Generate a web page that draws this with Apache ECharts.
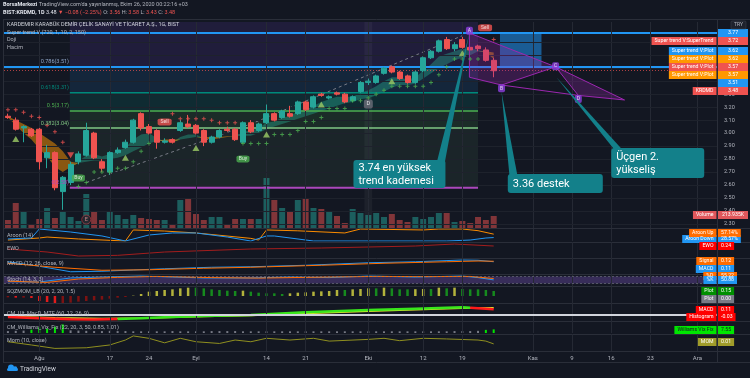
<!DOCTYPE html>
<html><head><meta charset="utf-8"><title>KRDMD</title>
<script src="https://cdn.jsdelivr.net/npm/echarts@6/dist/echarts.min.js"></script>
<style>html,body{margin:0;padding:0;background:#131722;overflow:hidden}#chart{width:750px;height:378px}</style>
</head><body><div id="chart"></div>
<script>
// ================= DATA =================
const holidays = ['2020-07-31','2020-08-03','2020-10-29'];
const N = 91;
const dates = [];
(function(){const d=new Date(Date.UTC(2020,6,27));while(dates.length<N){const s=d.toISOString().slice(0,10);const w=d.getUTCDay();if(w!==0&&w!==6&&holidays.indexOf(s)<0)dates.push(s);d.setUTCDate(d.getUTCDate()+1);}})();
const tickLabels = {'2020-08-04':'Ağu','2020-08-17':'17','2020-08-24':'24','2020-09-01':'Eyl','2020-09-14':'14','2020-09-21':'21','2020-10-01':'Eki','2020-10-12':'12','2020-10-19':'19','2020-11-02':'Kas','2020-11-09':'9','2020-11-16':'16','2020-11-23':'23','2020-12-01':'Ara'};
const priceTicks = [2.3,2.4,2.5,2.6,2.7,2.8,2.9,3.0,3.1,3.2,3.3,3.4,3.5,3.6,3.7];

const opens  = [3.13,3.10,3.04,3.03,3.03,2.81,2.85,2.55,2.62,2.78, 2.83,3.00,2.78,2.70,2.85,2.89,2.93,3.15,3.05,3.02, 2.93,2.95,3.02,3.07,3.06,3.02,2.93,2.97,3.03,3.03, 2.93,3.08,3.02,3.08,3.15,3.12,3.15,3.15,3.24,3.20, 3.30,3.27,3.31,3.30,3.25,3.32,3.39,3.39,3.46,3.51, 3.47,3.44,3.39,3.48,3.58,3.63,3.72,3.65,3.72,3.66, 3.67,3.64,3.56];
const closes = [3.12,3.03,3.05,2.98,2.78,2.85,2.58,2.66,2.76,2.84, 3.02,2.81,2.73,2.85,2.87,2.93,3.10,3.04,3.00,2.93, 2.94,2.93,3.08,3.05,3.00,2.93,2.97,3.02,3.02,2.95, 3.08,3.01,3.07,3.15,3.10,3.17,3.13,3.24,3.18,3.28, 3.29,3.28,3.30,3.24,3.28,3.39,3.40,3.44,3.50,3.47, 3.42,3.39,3.47,3.58,3.63,3.71,3.65,3.68,3.66,3.64, 3.65,3.56,3.48];
const lows   = [3.11,3.02,2.93,2.97,2.72,2.73,2.56,2.41,2.60,2.76, 2.82,2.80,2.70,2.68,2.84,2.88,2.92,3.02,2.99,2.88, 2.92,2.92,3.01,3.04,2.99,2.90,2.92,2.96,3.01,2.94, 2.92,3.00,3.01,3.07,3.09,3.11,3.12,3.14,3.17,3.19, 3.28,3.26,3.29,3.23,3.24,3.31,3.37,3.38,3.45,3.46, 3.41,3.38,3.38,3.47,3.57,3.62,3.64,3.63,3.65,3.63, 3.63,3.55,3.43];
const highs  = [3.15,3.12,3.06,3.04,3.04,2.91,2.86,2.67,2.78,2.86, 3.08,3.01,2.80,2.86,2.89,2.95,3.11,3.16,3.07,3.03, 2.96,2.96,3.10,3.14,3.07,3.03,2.98,3.03,3.05,3.04, 3.09,3.10,3.08,3.22,3.16,3.18,3.21,3.25,3.25,3.29, 3.31,3.29,3.32,3.31,3.29,3.40,3.42,3.45,3.51,3.52, 3.48,3.45,3.48,3.59,3.64,3.72,3.74,3.70,3.74,3.67, 3.68,3.66,3.58];
const volumesK = [142,445,303,53,160,356,178,285,196,125, 605,285,142,285,231,160,231,178,160,142, 142,71,498,534,249,142,196,196,71,160, 160,160,160,890,498,356,285,498,516,356, 338,303,214,89,338,267,231,267,196,249, 142,107,196,160,196,267,267,107,125,89, 196,142,213.935];

const stFast = [3.12,3.06,3.00,2.95,2.88,2.82,2.74,2.70,2.74,2.78, 2.83,2.84,2.82,2.84,2.86,2.89,2.95,2.99,3.00,2.96, 2.94,2.93,2.97,2.99,2.99,2.96,2.95,2.96,2.97,2.98, 3.01,3.02,3.04,3.08,3.09,3.12,3.13,3.17,3.18,3.21, 3.24,3.26,3.28,3.28,3.28,3.31,3.33,3.36,3.40,3.43, 3.43,3.41,3.43,3.48,3.53,3.59,3.61,3.63,3.65,3.65, 3.64,3.62,3.57];
const stSlow = [3.13,3.10,3.07,3.04,3.00,2.96,2.92,2.86,2.78,2.77, 2.78,2.79,2.79,2.80,2.81,2.83,2.86,2.89,2.92,2.94, 2.95,2.95,2.95,2.96,2.97,2.97,2.97,2.97,2.975,2.975, 2.98,2.98,3.00,3.03,3.05,3.07,3.09,3.11,3.13,3.15, 3.17,3.19,3.21,3.23,3.24,3.26,3.27,3.29,3.32,3.35, 3.37,3.37,3.38,3.42,3.46,3.50,3.53,3.56,3.58,3.60, 3.63,3.63,3.62];
const stStopUp = [null,null,null,null,null,null,null,null,null,2.59, 2.62,2.70,2.70,2.70,2.73,2.73,2.78,2.86,2.92,null, null,null,null,null,null,null,null,null,null,null, 2.92,2.92,2.92,2.92,2.99,2.99,2.99,3.02,3.09,3.09, 3.12,3.19,3.19,3.19,3.25,3.25,3.27,3.30,3.33,3.36, 3.36,3.36,3.36,3.36,3.39,3.45,3.51,3.57,3.57,3.57, 3.57,null,null];
const stStopDn = [3.18,3.18,3.16,3.13,3.12,3.06,3.01,2.93,null,null, null,null,null,null,null,null,null,null,null,null, null,3.15,3.11,3.11,3.11,3.11,3.10,3.08,3.08,3.08, null,null,null,null,null,null,null,null,null,null, null,null,null,null,null,null,null,null,null,null, null,null,null,null,null,null,null,null,null,null, null,null,3.72];
const dojiUp = [[1,2.955],[15,2.81],[24,2.885],[33,2.99],[40,3.22],[49,3.40],[58,3.615]];
const dojiDown = [[8,2.83]];
const buySignals = [[9,2.655],[30,2.80]];
const sellSignals = [[20,3.085],[60.9,3.81]];
const trendDash = [[10,2.62],[31,3.07],[58,3.75]];
const fibStart = 7.9, fibEnd = 60;
const fibLevels = [
  {label:'0.786(3.51)', price:3.51},
  {label:'0.618(3.31)', price:3.31},
  {label:'0.5(3.17)',   price:3.17},
  {label:'0.382(3.04)', price:3.04},
  {label:'0(2.58)',     price:2.58}
];
const fibTop = 3.855;
const abcd = {A:[58.9,3.77], A2:[58.9,3.43], B:[63,3.37], C:[69.9,3.51], D:[72.8,3.29], E:[78.7,3.255]};
const abcdLabels = [['A',58.9,3.787],['B',63,3.345],['C',69.9,3.515],['D',72.8,3.262]];
const positionBox = [[62.8,3.77],[68.1,3.51]];
const callouts = [
  {lines:['3.74 en yüksek','trend kademesi'], anchor:[44.1,2.793], w:92, h:28, baseAt:0.95, tip:[58.9,3.77]},
  {lines:['3.36 destek'], anchor:[63.8,2.685], w:95, h:19, baseAt:0.06, tip:[63.0,3.316]},
  {lines:['Üçgen 2.','yükseliş'], anchor:[77.0,2.885], w:93, h:30, baseAt:0.08, tip:[70.0,3.43]}
];

const aroonUp   = [[0,8],[4,25],[5,33],[9,17],[15,0],[16,92],[20,83],[24,67],[31,22],[32,8],[33,92],[37,85],[43,67],[45,100],[53,92],[55,100],[58,100],[60,86],[62,57.14]];
const aroonDown = [[0,17],[3,25],[4,100],[8,75],[12,42],[15,0],[18,50],[21,67],[24,67],[28,33],[31,0],[33,42],[34,42],[39,0],[56,0],[59,8],[61,25],[62,28.57]];
const ewo = [[0,0.15],[5,0.06],[9,-0.06],[14,-0.04],[20,0.06],[31,0.15],[40,0.18],[46,0.21],[52,0.24],[57,0.30],[62,0.24]];
const macdLine = [[0,0.11],[4,0.02],[8,-0.09],[12,-0.08],[16,-0.055],[20,-0.03],[26,0.0],[31,0.01],[38,0.04],[46,0.09],[52,0.11],[58,0.145],[60,0.14],[62,0.11]];
const macdSignal = [[0,0.08],[6,0.0],[12,-0.06],[18,-0.05],[25,-0.02],[31,0.0],[40,0.04],[48,0.08],[56,0.11],[60,0.125],[62,0.12]];
const stochK = [[0,36],[4,33],[8,67],[12,75],[17,83],[21,75],[25,67],[31,67],[36,75],[41,70],[46,83],[52,75],[58,83],[60,70],[62,50.88]];
const stochD = [[0,40],[5,30],[9,58],[14,72],[19,80],[26,70],[32,66],[38,72],[47,80],[53,78],[59,80],[62,62]];
const sqzMom = [-0.04,-0.05,-0.05,-0.06,-0.15,-0.18,-0.21,-0.21,-0.20,-0.17, -0.15,-0.13,-0.11,-0.08,-0.05,-0.03,0.01,0.06,0.13,0.15, 0.18,0.20,0.23,0.25,0.25,0.23,0.20,0.18,0.16,0.15, 0.16,0.13,0.10,0.08,0.08,0.06,0.08,0.10,0.11,0.13, 0.14,0.15,0.18,0.18,0.20,0.21,0.23,0.23,0.25,0.23, 0.20,0.20,0.205,0.21,0.21,0.25,0.23,0.25,0.21,0.20, 0.20,0.18,0.15];
const cmMacd = [[0,-0.04],[4,-0.06],[8,-0.08],[11,-0.085],[14,-0.075],[17,-0.06],[20,-0.045],[25,-0.02],[31,0.0],[38,0.05],[46,0.095],[52,0.12],[58,0.145],[59,0.14],[62,0.11]];
const cmSignal = [[0,-0.03],[6,-0.05],[12,-0.065],[18,-0.055],[25,-0.03],[31,-0.01],[38,0.03],[46,0.07],[52,0.10],[58,0.13],[62,0.14]];
const cmTurns = [14,59];
const vixFix = [4,4.5,5,7,12,9,13,18,5.5,5, 4.5,4,4,4.5,4,4,3.5,3.5,3.5,3.5, 3.5,4,3.5,3.5,3.5,3.5,4,4,4,4, 3.5,3.5,3.5,3.5,3.5,3.5,3.5,3.5,3.5,3.5, 3.5,3.5,3.5,3.5,3.5,3.5,3.5,3.5,3.5,3.5, 3.5,3.5,3.5,3.5,3.5,3.5,3.5,4,4,4, 4.5,6.5,7.55];
const vixThreshold = 6;
const mom = [[0,0.13],[3,-0.02],[6,-0.18],[10,-0.15],[13,-0.02],[15,0.21],[16,0.40],[18,0.29],[20,0.08],[22,0.29],[24,0.13],[27,0.05],[29,0.21],[31,0.13],[33,0.29],[36,0.21],[39,0.29],[41,0.16],[46,0.24],[48,0.29],[50,0.18],[53,0.29],[56,0.26],[60,0.21],[61,0.16],[62,0.03]];

// ================= STYLE / LAYOUT =================
const FONT = 'Roboto, "Liberation Sans", sans-serif';
const BG = '#131722';
const UP = '#26a69a', DN = '#ef5350';
const TEAL = '#13808a';
const PURPLE = '#9c27b0';
const panes = [[22,206],[229,12],[242,16],[258,16],[274,12],[286,17],[303,18],[321,12],[334,17]];
const mctx = document.createElement('canvas').getContext('2d');
function tw(t,size,bold){mctx.font=(bold?'bold ':'')+size+'px '+FONT;return mctx.measureText(t).width;}

const tickIdx = dates.map((d,i)=>tickLabels[d]?i:-1).filter(i=>i>=0);
const vLines = tickIdx.map(i=>({xAxis:dates[i]}));
function vm(extra){return {silent:true,symbol:'none',animation:false,label:{show:false},lineStyle:{color:'#252934',width:1,type:'solid'},data:vLines.concat(extra||[])};}

const grid = panes.map(([t,h])=>({left:4,width:713,top:t,height:h,show:false,containLabel:false,outerBoundsMode:'none'}));
const catAxis = (gi,showLabel)=>({type:'category',gridIndex:gi,data:dates,boundaryGap:true,axisLine:{show:false},axisTick:{show:false},splitLine:{show:false},
  axisLabel: showLabel ? {show:true,interval:(i,v)=>!!tickLabels[v],formatter:v=>tickLabels[v]||'',color:'#b2b5be',fontSize:6,margin:4,fontFamily:FONT} : {show:false}});
const xAxis = [catAxis(0,false),{type:'value',gridIndex:0,min:-0.5,max:N-0.5,show:false}];
for(let g=1;g<=8;g++) xAxis.push(catAxis(g,g===8));
const va=(gi,min,max)=>({type:'value',gridIndex:gi,min,max,show:false,splitLine:{show:false}});
const yAxis = [va(0,2.27,3.855),va(0,0,206*17.8),va(1,0,100),va(2,-0.12,0.36),va(3,-0.135,0.185),va(4,0,100),va(5,-0.21,0.30),va(6,-0.114,0.228),va(7,0,25),va(8,-0.30,0.49)];

// derived series
const candleData = opens.map((o,i)=>[o,closes[i],lows[i],highs[i]]);
const volData = volumesK.map((v,i)=>({value:v,itemStyle:{color:closes[i]>=opens[i]?'rgba(38,166,154,0.5)':'rgba(239,83,80,0.5)'}}));
const bandLow = stFast.map((f,i)=>Math.min(f,stSlow[i]));
const bandG = stFast.map((f,i)=>Math.max(f-stSlow[i],0));
const bandO = stFast.map((f,i)=>Math.max(stSlow[i]-f,0));
const pairs = arr=>arr.map((v,i)=>v==null?null:[i,v]).filter(Boolean);
const plusSym = 'path://M3,0H5V3H8V5H5V8H3V5H0V3H3Z';
const fibColors = ['#8fa5c7','#00897b','#4caf50','#81c784','#ab47bc'];
const fibZoneFill = ['rgba(103,58,183,0.17)','rgba(33,150,243,0.12)','rgba(0,150,136,0.16)','rgba(76,175,80,0.14)','rgba(129,199,132,0.08)'];
const zoneEdges = [fibTop].concat(fibLevels.map(f=>f.price));
const fibZones = zoneEdges.slice(0,-1).map((p,k)=>[{xAxis:fibStart,yAxis:p,itemStyle:{color:fibZoneFill[k]}},{xAxis:fibEnd,yAxis:zoneEdges[k+1]}]);
fibZones.push([{xAxis:45.5,yAxis:3.855,itemStyle:{color:'rgba(255,255,255,0.045)'}},{xAxis:46.5,yAxis:2.27}]);
fibZones.push([{xAxis:positionBox[0][0],yAxis:positionBox[0][1],itemStyle:{color:'rgba(33,150,243,0.55)'}},{xAxis:positionBox[1][0],yAxis:positionBox[1][1]}]);
const sqzData = sqzMom.map((v,i)=>{const p=i?sqzMom[i-1]:v;const c=v>=0?(v>p?'#b3b33c':'#168a1e'):(v<p?'#e01b1b':'#7d1212');return {value:v,itemStyle:{color:c}};});
const vixData = vixFix.map(v=>({value:v,itemStyle:{color:v>vixThreshold?'#00e600':'#787b86'}}));
const seg=(arr,a,b)=>arr.filter(p=>p[0]>=a&&p[0]<=b);

const series = [];
// ---- main pane ----
series.push({type:'line',xAxisIndex:1,yAxisIndex:0,data:trendDash,symbol:'none',z:3,lineStyle:{color:'#787b86',width:1,type:[3,3]},
  markArea:{silent:true,animation:false,data:fibZones},
  markLine:{silent:true,symbol:'none',animation:false,label:{show:false},data:[
    {yAxis:3.77,lineStyle:{color:'#2196f3',width:2,type:'solid'}},
    {yAxis:3.51,lineStyle:{color:'#2196f3',width:2,type:'solid'}},
    {yAxis:3.48,lineStyle:{color:'#ef5350',width:1,type:[1,2],opacity:0.7}}]}});
series.push({type:'bar',xAxisIndex:0,yAxisIndex:1,data:volData,barWidth:6,z:2,markLine:vm()});
series.push({type:'line',xAxisIndex:0,yAxisIndex:0,data:bandLow,stack:'g',symbol:'none',lineStyle:{width:0},z:3,
  markLine:{silent:true,symbol:'none',animation:false,label:{show:false},data:priceTicks.map(p=>({yAxis:p,lineStyle:{color:'#1e222c',width:1,type:'solid'},label:{show:true,position:'end',distance:7,formatter:p.toFixed(2),color:'#b2b5be',fontSize:5.5,fontFamily:FONT}}))}});
series.push({type:'line',xAxisIndex:0,yAxisIndex:0,data:bandG,stack:'g',symbol:'none',lineStyle:{width:0},areaStyle:{color:'rgba(38,166,140,0.42)',opacity:1},z:3});
series.push({type:'line',xAxisIndex:0,yAxisIndex:0,data:bandLow,stack:'o',symbol:'none',lineStyle:{width:0},z:3});
series.push({type:'line',xAxisIndex:0,yAxisIndex:0,data:bandO,stack:'o',symbol:'none',lineStyle:{width:0},areaStyle:{color:'rgba(255,152,0,0.5)',opacity:1},z:3});
fibLevels.forEach((f,k)=>series.push({type:'line',xAxisIndex:1,yAxisIndex:0,data:[[fibStart,f.price],[fibEnd,f.price]],symbol:'none',z:3,lineStyle:{color:fibColors[k],width:k===4?2:1.5}}));
series.push({type:'candlestick',xAxisIndex:0,yAxisIndex:0,data:candleData,barWidth:5.5,z:5,itemStyle:{color:UP,color0:DN,borderColor:UP,borderColor0:DN,borderWidth:1}});
series.push({type:'scatter',xAxisIndex:0,yAxisIndex:0,data:pairs(stStopUp),symbol:plusSym,symbolSize:4,z:6,itemStyle:{color:'#4caf50'}});
series.push({type:'scatter',xAxisIndex:0,yAxisIndex:0,data:pairs(stStopDn),symbol:plusSym,symbolSize:4,z:6,itemStyle:{color:'#ef5350'}});
series.push({type:'scatter',xAxisIndex:1,yAxisIndex:0,data:dojiUp,symbol:'triangle',symbolSize:[7,6],z:6,itemStyle:{color:'#9ccc65'}});
series.push({type:'scatter',xAxisIndex:1,yAxisIndex:0,data:dojiDown,symbol:'triangle',symbolRotate:180,symbolSize:[7,6],z:6,itemStyle:{color:'#ef5350'}});
series.push({type:'scatter',xAxisIndex:1,yAxisIndex:0,data:buySignals,symbol:'roundRect',symbolSize:[13,7],z:7,itemStyle:{color:'#4caf50'},label:{show:true,position:'inside',formatter:'Buy',color:'#fff',fontSize:5,fontFamily:FONT}});
series.push({type:'scatter',xAxisIndex:1,yAxisIndex:0,data:sellSignals,symbol:'roundRect',symbolSize:[14,7],z:7,itemStyle:{color:'#ef5350'},label:{show:true,position:'inside',formatter:'Sell',color:'#fff',fontSize:5,fontFamily:FONT}});
series.push({type:'custom',xAxisIndex:1,yAxisIndex:0,z:6,clip:false,silent:true,data:[abcd.A],
  renderItem:(params,api)=>{const c=k=>api.coord(abcd[k]);const st={fill:'rgba(156,39,176,0.28)',stroke:PURPLE,lineWidth:1};
    return {type:'group',children:[
      {type:'polygon',shape:{points:[c('A'),c('C'),c('B'),c('A2')]},style:st},
      {type:'polygon',shape:{points:[c('C'),c('E'),c('D')]},style:st},
      {type:'line',shape:{x1:c('B')[0],y1:c('B')[1],x2:c('D')[0],y2:c('D')[1]},style:{stroke:PURPLE,lineWidth:1}}]};}});
series.push({type:'scatter',xAxisIndex:1,yAxisIndex:0,z:8,data:abcdLabels.map(a=>({value:[a[1],a[2]],name:a[0]})),symbol:'roundRect',symbolSize:[7,8],itemStyle:{color:'#8e3fe0'},
  label:{show:true,position:'inside',formatter:p=>p.name,color:'#fff',fontSize:5,fontFamily:FONT}});
series.push({type:'scatter',xAxisIndex:1,yAxisIndex:0,z:8,data:[{value:[10,2.335],name:'E'}],symbol:'circle',symbolSize:9,itemStyle:{color:'#2a1d25',borderColor:'#9c3b43',borderWidth:1},
  label:{show:true,position:'inside',formatter:'E',color:'#ef9a9a',fontSize:5.5,fontFamily:FONT}});
series.push({type:'scatter',xAxisIndex:1,yAxisIndex:0,z:8,data:[{value:[46,3.225],name:'D'}],symbol:'roundRect',symbolSize:[9,9],itemStyle:{color:'#6a6d78'},
  label:{show:true,position:'inside',formatter:'D',color:'#fff',fontSize:5.5,fontFamily:FONT}});
series.push({type:'custom',xAxisIndex:1,yAxisIndex:0,z:10,clip:false,silent:true,data:callouts.map(c=>c.anchor),
  renderItem:(params,api)=>{const c=callouts[params.dataIndex];const p=api.coord(c.anchor);const t=api.coord(c.tip);const bx=p[0]+c.w*c.baseAt;
    return {type:'group',children:[
      {type:'polygon',shape:{points:[[bx-4,p[1]+2],[bx+4,p[1]+2],t]},style:{fill:TEAL}},
      {type:'rect',shape:{x:p[0],y:p[1],width:c.w,height:c.h,r:3},style:{fill:TEAL}},
      {type:'text',style:{text:c.lines.join('\n'),x:p[0]+5,y:p[1]+c.h/2+0.5,fill:'#ffffff',font:'11px '+FONT,lineHeight:13,textVerticalAlign:'middle',textAlign:'left'}}]};}});

// ---- lower panes ----
const L=(xi,data,color,extra)=>Object.assign({type:'line',xAxisIndex:xi,yAxisIndex:xi,data,symbol:'none',lineStyle:{color,width:1},z:3},extra||{});
series.push(L(2,aroonUp,'#fb8c00',{markLine:vm()}));
series.push(L(2,aroonDown,'#2196f3'));
series.push(L(3,ewo,'#a31d1d',{markLine:vm()}));
series.push(L(4,macdLine,'#2196f3',{markLine:vm()}));
series.push(L(4,macdSignal,'#ff6d00'));
series.push(L(5,stochK,'#2196f3',{markLine:vm([{yAxis:80,lineStyle:{color:'#787b86',type:[2,2],opacity:0.6}},{yAxis:20,lineStyle:{color:'#787b86',type:[2,2],opacity:0.6}}]),
  markArea:{silent:true,animation:false,itemStyle:{color:'rgba(126,87,194,0.35)'},data:[[{yAxis:20},{yAxis:80}]]}}));
series.push(L(5,stochD,'#ff6d00'));
series.push({type:'bar',xAxisIndex:6,yAxisIndex:6,data:sqzData,barWidth:2.5,z:3,markLine:vm()});
series.push(L(7,cmSignal,'#e3e32e',{lineStyle:{color:'#e3e32e',width:1.5},markLine:vm([{yAxis:0,lineStyle:{color:'#d1d4dc',width:2}}])}));
series.push(L(7,seg(cmMacd,0,cmTurns[0]),'#ff1a1a',{lineStyle:{color:'#ff1a1a',width:2.5}}));
series.push(L(7,seg(cmMacd,cmTurns[0],cmTurns[1]),'#39e61c',{lineStyle:{color:'#39e61c',width:2.5}}));
series.push(L(7,seg(cmMacd,cmTurns[1],99),'#ff1a1a',{lineStyle:{color:'#ff1a1a',width:2.5}}));
series.push({type:'bar',xAxisIndex:8,yAxisIndex:8,data:vixData,barWidth:2,z:3,markLine:vm()});
series.push(L(9,mom,'#8f8f1f',{markLine:vm()}));

// ================= GRAPHICS (text, separators, tags) =================
const G = [];
[19,228,242,258,274,286,303,321,334,351,362].forEach(y=>G.push({type:'line',silent:true,z:1,shape:{x1:3,y1:y+0.5,x2:750,y2:y+0.5},style:{stroke:'#2a2e39',lineWidth:1}}));
G.push({type:'line',silent:true,z:1,shape:{x1:717.5,y1:19,x2:717.5,y2:362},style:{stroke:'#2a2e39',lineWidth:1}});
G.push({type:'line',silent:true,z:1,shape:{x1:3.5,y1:19,x2:3.5,y2:362},style:{stroke:'#2a2e39',lineWidth:1}});
function segs(x,y,list,size){list.forEach(s=>{const [t,c,b]=s;G.push({type:'text',silent:true,z:50,style:{x,y,text:t,fill:c||'#b2b5be',font:(b?'bold ':'')+size+'px '+FONT,textVerticalAlign:'middle'}});x+=tw(t,size,b);});}
segs(3,5,[['BorsaMerkezi','#e0e3eb',true],[" TradingView.com'da yayınlanmış, Ekim 26, 2020 00:22:16 +03",'#b2b5be']],5.5);
segs(3,13,[['BIST:KRDMD, 1D','#e0e3eb',true],[' 3.48 ','#e0e3eb'],['▼ −0.08 (−2.25%)','#ef5350'],[' O: '],['3.56','#ef5350'],[' H: '],['3.58','#ef5350'],[' L: '],['3.43','#ef5350'],[' C: '],['3.48','#ef5350']],5.5);
const titleRows=[[25,'KARDEMIR KARABÜK DEMİR ÇELİK SANAYİ VE TİCARET A.Ş., 1G, BIST','#d1d4dc'],[33,'Super trend V (720, 1, 10, 2, 150)','#b2b5be'],[40,'Doji','#b2b5be'],[48,'Hacim','#b2b5be'],
 [236,'Aroon (14)'],[249,'EWO'],[264,'MACD (12, 26, close, 9)'],[280,'Stoch (14, 3, 3)'],[292,'SQZMOM_LB (20, 2, 20, 1.5)'],[314,'CM_Ult_MacD_MTF (60, 12, 26, 9)'],[328,'CM_Williams_Vix_Fix (22, 20, 3, 50, 0.85, 1.01)'],[341,'Mom (10, close)']];
titleRows.forEach(r=>G.push({type:'text',silent:true,z:50,style:{x:7,y:r[0],text:r[1],fill:r[2]||'#b2b5be',font:'5.5px '+FONT,textVerticalAlign:'middle'}}));
const fibTextY=[62,88,106,124,183];
fibLevels.forEach((f,k)=>G.push({type:'text',silent:true,z:50,style:{x:69,y:fibTextY[k],text:f.label,fill:fibColors[k],font:'5.5px '+FONT,textAlign:'right',textVerticalAlign:'middle'}}));
// right-side tags
const tags=[
 [33,'','3.77','#2196f3'],[41,'Super trend V:SuperTrend','3.72','#ef5350'],[51,'Super trend V:Plot','3.62','#2196f3'],[59,'Super trend V:Plot','3.62','#ff9800'],
 [67,'Super trend V:Plot','3.57','#ef5350'],[75,'Super trend V:Plot','3.57','#ff9800'],[83,'','3.51','#2196f3'],[91,'KRDMD','3.48','#ef5350'],
 [215,'Volume','213.935K','#e0575b'],[239,'Aroon Down','28.57%','#2196f3'],[233,'Aroon Up','57.14%','#ff6d00'],[246,'EWO','0.24','#ff0000'],
 [261,'Signal','0.12','#ff6d00'],[269,'MACD','0.11','#2196f3'],[276,'%D','55.22','#ff6d00'],[280,'%K','50.88','#2196f3'],
 [291,'Plot','0.15','#008f00'],[299,'Plot','0.00','#787b86'],[310,'MACD','0.11','#ff0000'],[317,'Histogram','-0.03','#ff0000'],
 [330,'Williams Vix Fix','7.55','#00e600','#131722'],[342,'MOM','0.01','#a09c2a']];
tags.forEach(t=>{const [y,name,val,bg,fg0]=t;const fg=fg0||'#ffffff';const vw=y<228?30:tw(val,5.2)+6;
  G.push({type:'rect',silent:true,z:60,shape:{x:718,y:y-4,width:vw,height:8},style:{fill:bg}});
  G.push({type:'text',silent:true,z:61,style:{x:718+vw/2,y:y,text:val,fill:fg,font:'5.2px '+FONT,textAlign:'center',textVerticalAlign:'middle'}});
  if(name){const nw=tw(name,5.2)+6;G.push({type:'rect',silent:true,z:60,shape:{x:716.5-nw,y:y-4,width:nw,height:8},style:{fill:bg}});
    G.push({type:'text',silent:true,z:61,style:{x:716.5-nw/2,y:y,text:name,fill:fg,font:'5.2px '+FONT,textAlign:'center',textVerticalAlign:'middle'}});}});
G.push({type:'rect',silent:true,z:60,shape:{x:731,y:21,width:15,height:8,r:1},style:{fill:'#1e222d',stroke:'#434651',lineWidth:0.5}});
G.push({type:'text',silent:true,z:61,style:{x:738.5,y:25,text:'TRY',fill:'#b2b5be',font:'5px '+FONT,textAlign:'center',textVerticalAlign:'middle'}});
// logo
G.push({type:'circle',silent:true,z:50,shape:{cx:11,cy:367.5,r:3},style:{fill:'#2196f3'}});
G.push({type:'circle',silent:true,z:50,shape:{cx:15,cy:368.5,r:2.3},style:{fill:'#2196f3'}});
G.push({type:'rect',silent:true,z:50,shape:{x:7,y:368,width:11,height:3,r:1.5},style:{fill:'#2196f3'}});
G.push({type:'text',silent:true,z:50,style:{x:20,y:369.5,text:'TradingView',fill:'#d1d4dc',font:'6.5px '+FONT,textVerticalAlign:'middle'}});

const chart = echarts.init(document.getElementById('chart'),null,{width:750,height:378,renderer:'canvas'});
chart.setOption({backgroundColor:BG,animation:false,grid,xAxis,yAxis,series,graphic:{elements:G}});
</script></body></html>
